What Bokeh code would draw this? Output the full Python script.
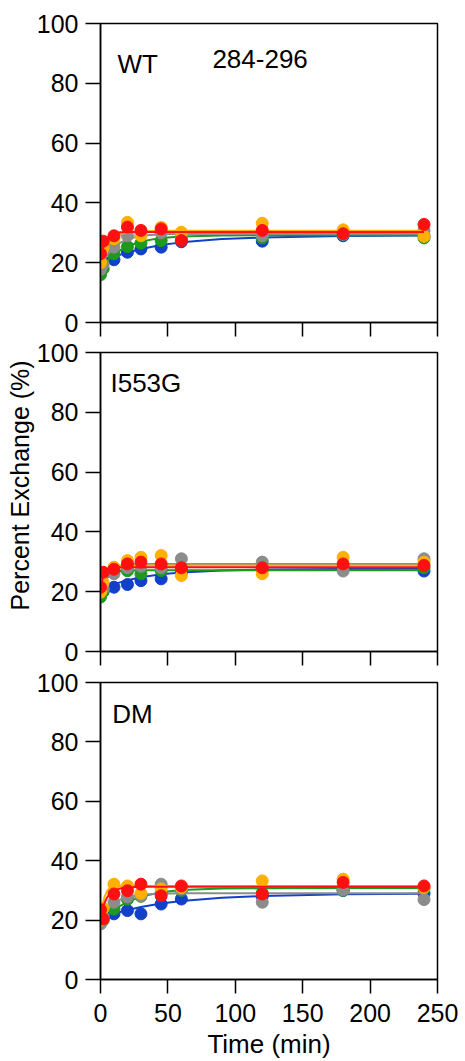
from bokeh.plotting import figure
from bokeh.models import Range1d, FixedTicker, Label, Title
from bokeh.layouts import column
from bokeh.embed import file_html
from bokeh.resources import INLINE

# ---------------- data ----------------
TIME_POINTS = [0, 2, 10, 20, 30, 45, 60, 120, 180, 240]
FIT_TIME = [0, 1, 2, 3, 5, 7, 10, 15, 20, 30, 45, 60, 90, 120, 180, 240]
X_TICKS = [0, 50, 100, 150, 200, 250]
Y_TICKS = [0, 20, 40, 60, 80, 100]
PANELS = ["WT", "I553G", "DM"]
PEPTIDE = "284-296"
SERIES = ["blue", "green", "gray", "orange", "red"]
COLORS = ["#1240c8", "#1c9a1c", "#8c8c8c", "#ffb000", "#ff1010"]

# WT measured points
WT_BLUE = [19.5, 20.5, 21.0, 23.5, 24.6, 25.2, 27.0, 27.2, 29.0, 29.0]
WT_GREEN = [16.0, 18.0, 23.0, 25.4, 26.5, 27.4, 28.0, 28.3, 29.5, 28.3]
WT_GRAY = [17.7, 19.5, 25.2, 29.0, 29.5, 30.0, 28.5, 29.0, 29.5, 30.8]
WT_ORANGE = [20.0, 25.0, 28.0, 33.5, 29.0, 31.8, 30.2, 33.2, 31.0, 28.8]
WT_RED = [23.0, 27.2, 29.0, 31.9, 30.8, 31.3, 27.4, 30.8, 29.7, 32.8]
# WT fitted curves
WT_FIT_BLUE = [19.0, 19.4, 19.8, 20.1, 20.7, 21.2, 21.8, 22.7, 23.4, 24.6, 25.9, 26.8, 27.9, 28.4, 28.9, 29.1]
WT_FIT_GREEN = [17.5, 18.2, 18.9, 19.5, 20.6, 21.5, 22.7, 24.3, 25.5, 27.1, 28.3, 28.8, 29.1, 29.2, 29.2, 29.2]
WT_FIT_GRAY = [18.0, 19.1, 20.1, 21.0, 22.5, 23.7, 25.1, 26.8, 27.9, 29.0, 29.5, 29.6, 29.7, 29.7, 29.7, 29.7]
WT_FIT_ORANGE = [19.0, 20.8, 22.4, 23.7, 25.7, 27.1, 28.5, 29.7, 30.2, 30.5, 30.7, 30.7, 30.7, 30.7, 30.7, 30.7]
WT_FIT_RED = [21.0, 23.3, 25.1, 26.4, 28.2, 29.2, 29.9, 30.2, 30.3, 30.3, 30.3, 30.3, 30.3, 30.3, 30.3, 30.3]

# I553G measured points
I553G_BLUE = [20.0, 20.5, 21.5, 22.4, 23.7, 24.3, 26.5, 27.5, 28.0, 26.9]
I553G_GREEN = [18.2, 20.0, 27.0, 27.0, 26.0, 27.1, 27.7, 27.5, 28.0, 28.0]
I553G_GRAY = [20.0, 21.0, 26.0, 28.0, 28.5, 28.0, 31.0, 29.9, 26.9, 31.0]
I553G_ORANGE = [19.8, 23.0, 28.2, 30.4, 31.5, 32.1, 25.4, 26.0, 31.5, 29.9]
I553G_RED = [21.5, 26.5, 27.5, 29.3, 29.9, 29.3, 28.0, 28.0, 29.3, 28.8]
# I553G fitted curves
I553G_FIT_BLUE = [20.0, 20.3, 20.6, 20.9, 21.4, 21.9, 22.4, 23.2, 23.8, 24.8, 25.8, 26.4, 27.1, 27.4, 27.6, 27.7]
I553G_FIT_GREEN = [18.0, 20.0, 21.6, 22.9, 24.6, 25.6, 26.4, 26.9, 27.1, 27.2, 27.2, 27.2, 27.2, 27.2, 27.2, 27.2]
I553G_FIT_GRAY = [19.0, 20.8, 22.3, 23.5, 25.3, 26.6, 27.8, 28.8, 29.1, 29.3, 29.3, 29.3, 29.3, 29.3, 29.3, 29.3]
I553G_FIT_ORANGE = [19.5, 22.5, 24.6, 26.0, 27.6, 28.3, 28.7, 28.8, 28.8, 28.8, 28.8, 28.8, 28.8, 28.8, 28.8, 28.8]
I553G_FIT_RED = [21.0, 23.5, 25.1, 26.2, 27.4, 27.9, 28.1, 28.2, 28.2, 28.2, 28.2, 28.2, 28.2, 28.2, 28.2, 28.2]

# DM measured points
DM_BLUE = [19.5, 21.0, 22.1, 23.2, 22.1, 25.4, 27.1, 28.0, 30.0, 29.0]
DM_GREEN = [19.0, 20.0, 23.7, 27.0, 28.0, 29.0, 30.0, 29.0, 30.0, 30.5]
DM_GRAY = [18.7, 21.0, 26.0, 27.8, 28.2, 32.1, 30.5, 26.0, 30.2, 26.9]
DM_ORANGE = [20.0, 24.0, 32.1, 31.5, 29.0, 30.5, 31.0, 33.2, 33.8, 31.0]
DM_RED = [23.5, 20.4, 28.8, 29.9, 32.1, 28.2, 31.5, 28.8, 32.7, 31.5]
# DM fitted curves
DM_FIT_BLUE = [20.0, 20.3, 20.6, 20.8, 21.2, 21.6, 22.1, 22.8, 23.4, 24.4, 25.6, 26.4, 27.5, 28.1, 28.7, 28.9]
DM_FIT_GREEN = [19.0, 19.5, 20.0, 20.5, 21.4, 22.2, 23.3, 24.9, 26.1, 27.9, 29.4, 30.1, 30.6, 30.7, 30.8, 30.8]
DM_FIT_GRAY = [19.5, 20.5, 21.4, 22.2, 23.5, 24.5, 25.7, 27.0, 27.8, 28.6, 28.9, 29.0, 29.0, 29.0, 29.0, 29.0]
DM_FIT_ORANGE = [20.0, 23.5, 26.0, 27.8, 29.9, 30.8, 31.3, 31.5, 31.5, 31.5, 31.5, 31.5, 31.5, 31.5, 31.5, 31.5]
DM_FIT_RED = [21.0, 22.9, 24.5, 25.8, 27.7, 28.9, 29.9, 30.7, 31.0, 31.2, 31.2, 31.2, 31.2, 31.2, 31.2, 31.2]

PANEL_POINTS = [
    [WT_BLUE, WT_GREEN, WT_GRAY, WT_ORANGE, WT_RED],
    [I553G_BLUE, I553G_GREEN, I553G_GRAY, I553G_ORANGE, I553G_RED],
    [DM_BLUE, DM_GREEN, DM_GRAY, DM_ORANGE, DM_RED],
]
PANEL_FITS = [
    [WT_FIT_BLUE, WT_FIT_GREEN, WT_FIT_GRAY, WT_FIT_ORANGE, WT_FIT_RED],
    [I553G_FIT_BLUE, I553G_FIT_GREEN, I553G_FIT_GRAY, I553G_FIT_ORANGE, I553G_FIT_RED],
    [DM_FIT_BLUE, DM_FIT_GREEN, DM_FIT_GRAY, DM_FIT_ORANGE, DM_FIT_RED],
]

FONT = "Liberation Sans"
FRAME_H = 299
LAYOUT = [  # (top border, bottom border, show x labels)
    (23, 17, False),
    (13, 17, False),
    (14, 80, True),
]
NAME_POS = [(12.6, 86.6), (7.4, 89.7), (8.7, 89.5)]


def make_panel(i):
    top, bottom, show_x = LAYOUT[i]
    p = figure(width=465, height=top + FRAME_H + bottom,
               x_range=Range1d(0, 250), y_range=Range1d(0, 100),
               output_backend="svg", toolbar_location=None,
               min_border_left=100, min_border_right=28,
               min_border_top=top, min_border_bottom=bottom)
    p.grid.visible = False
    p.background_fill_color = "white"
    p.border_fill_color = "white"
    p.outline_line_color = "black"
    p.outline_line_width = 1.5
    p.outline_line_alpha = 1.0

    for ax in (p.xaxis[0], p.yaxis[0]):
        ax.axis_line_color = "black"
        ax.axis_line_width = 1.5
        ax.major_tick_line_color = "black"
        ax.major_tick_line_width = 1.5
        ax.major_tick_in = 0
        ax.major_label_text_font = FONT
        ax.major_label_text_font_size = "25px"
        ax.major_label_text_color = "black"

    p.yaxis.ticker = FixedTicker(ticks=Y_TICKS)
    p.yaxis.major_tick_out = 15
    p.yaxis.major_label_standoff = 7
    p.yaxis.minor_tick_line_color = None

    if show_x:
        p.xaxis.ticker = FixedTicker(ticks=X_TICKS)
        p.xaxis.major_tick_out = 14
        p.xaxis.minor_tick_line_color = None
        p.xaxis.major_label_standoff = 10
        p.xaxis.axis_label = "Time (min)"
        p.xaxis.axis_label_text_font = FONT
        p.xaxis.axis_label_text_font_size = "26px"
        p.xaxis.axis_label_text_font_style = "normal"
        p.xaxis.axis_label_text_color = "black"
        p.xaxis.axis_label_standoff = 4
    else:
        # tick marks only (no labels): draw them as minor ticks
        p.xaxis.ticker = FixedTicker(ticks=[], minor_ticks=X_TICKS)
        p.xaxis.minor_tick_out = 14
        p.xaxis.minor_tick_in = 0
        p.xaxis.minor_tick_line_color = "black"
        p.xaxis.minor_tick_line_width = 1.5
        p.xaxis.major_label_standoff = 0

    for k in range(len(SERIES)):
        c = COLORS[k]
        p.scatter(TIME_POINTS, PANEL_POINTS[i][k], size=12, color=c, alpha=1.0)
        p.line(FIT_TIME, PANEL_FITS[i][k], color=c, line_width=2)

    nx, ny = NAME_POS[i]
    p.add_layout(Label(x=nx, y=ny, text=PANELS[i], text_font=FONT,
                       text_font_size="26px", text_color="black",
                       text_baseline="alphabetic"))
    if i == 0:
        p.add_layout(Label(x=83, y=88.2, text=PEPTIDE, text_font=FONT,
                           text_font_size="26px", text_color="black",
                           text_baseline="alphabetic"))
    if i == 1:
        p.add_layout(Title(text="Percent Exchange (%)", align="left", offset=41,
                           standoff=0, text_font=FONT, text_font_size="25px",
                           text_font_style="normal", text_color="black"), "left")
    return p


panels = [make_panel(i) for i in range(3)]
layout = column(*panels, spacing=0)
open("out.html", "w").write(file_html(layout, INLINE))
